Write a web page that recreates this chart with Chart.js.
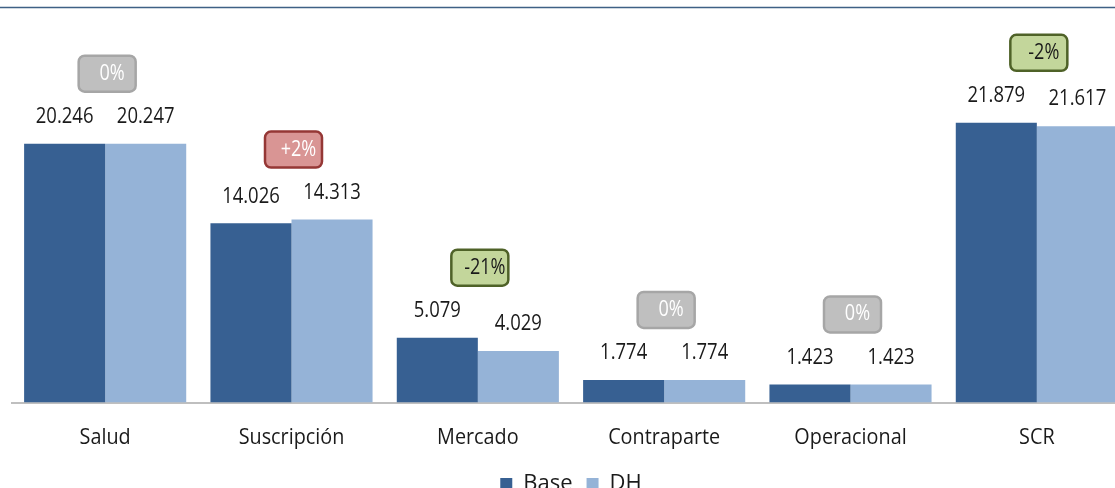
<!DOCTYPE html>
<html>
<head>
<meta charset="utf-8">
<script src="https://cdn.jsdelivr.net/npm/chart.js@4.4.1/dist/chart.umd.min.js"></script>
<style>
  html, body { margin: 0; padding: 0; background: #fff; overflow: hidden; }
  #wrap { width: 1115px; height: 488px; overflow: hidden; position: relative; }
  #wrap canvas { position: absolute; left: 0; top: 0; }
</style>
</head>
<body>
<div id="wrap"><canvas id="grafico" width="1142" height="505"></canvas></div>
<script>
// ===== DADOS =====
const categorias = ['Salud', 'Suscripción', 'Mercado', 'Contraparte', 'Operacional', 'SCR'];
const valoresBase = [20246, 14026, 5079, 1774, 1423, 21879];
const valoresDH = [20247, 14313, 4029, 1774, 1423, 21617];
const variacoes = ['0%', '+2%', '-21%', '0%', '0%', '-2%'];

const fonte = "'Open Sans', 'Noto Sans', sans-serif";
const corTexto = '#1a1a1a';

// 20246 -> "20.246"
const formatar = v => String(v).replace(/\B(?=(\d{3})+(?!\d))/g, '.');

// cores da etiqueta conforme o sinal
function coresEtiqueta(txt) {
    if (txt.startsWith('+')) return { fundo: '#d99594', borda: '#953735', texto: '#ffffff' };
    if (txt.startsWith('-')) return { fundo: '#c3d69b', borda: '#4f6228', texto: '#1a1a1a' };
    return { fundo: '#bfbfbf', borda: '#a6a6a6', texto: '#ffffff' };
}

function caixa(ctx, x, y, w, h, r) {
    ctx.beginPath();
    ctx.moveTo(x + r, y);
    ctx.arcTo(x + w, y, x + w, y + h, r);
    ctx.arcTo(x + w, y + h, x, y + h, r);
    ctx.arcTo(x, y + h, x, y, r);
    ctx.arcTo(x, y, x + w, y, r);
    ctx.closePath();
}

// texto um pouco estreitado (a fonte original e mais condensada)
function textoEstreito(ctx, txt, x, y, sx) {
    ctx.save();
    ctx.translate(x, y);
    ctx.scale(sx, 1);
    ctx.fillText(txt, 0, 0);
    ctx.restore();
}

// ===== PLUGIN: linha superior, valores, etiquetas e categorias =====
const rotulos = {
    id: 'rotulos',
    beforeDraw(chart) {
        const ctx = chart.ctx;
        ctx.save();
        ctx.strokeStyle = '#3f6185';
        ctx.lineWidth = 1.5;
        ctx.beginPath();
        ctx.moveTo(0, 7.5);
        ctx.lineTo(chart.width, 7.5);
        ctx.stroke();
        ctx.restore();
    },
    afterDatasetsDraw(chart) {
        const ctx = chart.ctx;
        const m0 = chart.getDatasetMeta(0);
        const m1 = chart.getDatasetMeta(1);
        ctx.save();
        ctx.textAlign = 'center';
        ctx.textBaseline = 'middle';

        // valores
        ctx.font = `22px ${fonte}`;
        ctx.fillStyle = corTexto;
        [m0, m1].forEach((meta, di) => {
            meta.data.forEach((bar, i) => {
                textoEstreito(ctx, formatar(chart.data.datasets[di].data[i]), bar.x, bar.y - 27, 0.84);
            });
        });

        // etiquetas de variacao
        variacoes.forEach((txt, i) => {
            const cx = (m0.data[i].x + m1.data[i].x) / 2 + 2;
            const topo = Math.min(m0.data[i].y, m1.data[i].y);
            const cy = topo - 70;
            const w = 57, h = 36;
            const c = coresEtiqueta(txt);
            caixa(ctx, cx - w / 2, cy - h / 2, w, h, 6);
            ctx.fillStyle = c.fundo;
            ctx.fill();
            ctx.lineWidth = 2.5;
            ctx.strokeStyle = c.borda;
            ctx.stroke();
            ctx.fillStyle = c.texto;
            ctx.font = `21px ${fonte}`;
            textoEstreito(ctx, txt, cx + 5, cy, 0.86);
        });

        // categorias
        const sx = chart.scales.x;
        ctx.font = `22px ${fonte}`;
        ctx.fillStyle = corTexto;
        categorias.forEach((cat, i) => {
            textoEstreito(ctx, cat, sx.getPixelForTick(i), 438, 0.9);
        });
        ctx.restore();
    }
};

// ===== GRAFICO =====
new Chart(document.getElementById('grafico').getContext('2d'), {
    type: 'bar',
    data: {
        labels: categorias,
        datasets: [
            { label: 'Base', data: valoresBase, backgroundColor: '#376092' },
            { label: 'DH', data: valoresDH, backgroundColor: '#95b3d7' }
        ]
    },
    options: {
        responsive: false,
        animation: false,
        categoryPercentage: 0.87,
        barPercentage: 1.0,
        layout: { padding: { top: 19, left: 12, right: 12, bottom: 0 } },
        plugins: {
            legend: {
                position: 'bottom',
                labels: {
                    boxWidth: 12, boxHeight: 12, padding: 14,
                    color: corTexto,
                    font: { family: fonte, size: 22 }
                }
            },
            tooltip: { enabled: false }
        },
        scales: {
            x: {
                grid: { display: false, drawTicks: false },
                border: { display: true, color: '#bfbfbf', width: 2 },
                ticks: { color: 'rgba(0,0,0,0)', padding: 24, font: { family: fonte, size: 22 } },
                afterFit(scale) { scale.height -= 18; }
            },
            y: { display: false, min: 0, max: 30000 }
        }
    },
    plugins: [rotulos]
});
</script>
</body>
</html>
